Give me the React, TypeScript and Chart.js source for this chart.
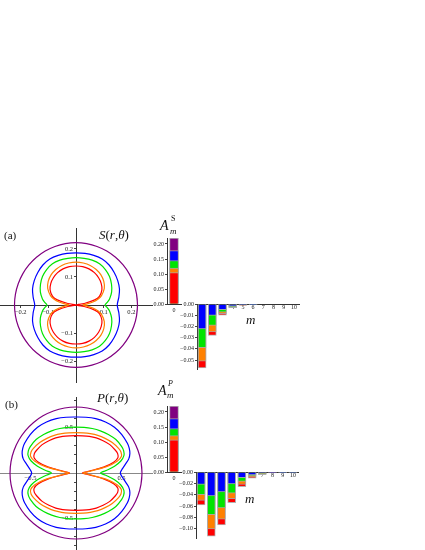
import React, { useEffect, useRef } from "react";
import { Chart, registerables } from "chart.js";

Chart.register(...registerables);

const FONT = "'Liberation Serif', 'Times New Roman', serif";

const PURPLE = "rgb(128, 0, 128)";
const BLUE = "rgb(0, 0, 255)";
const GREEN = "rgb(0, 228, 0)";
const ORANGE = "rgb(255, 128, 0)";
const RED = "rgb(255, 0, 0)";

// ---------- Panel (a): S(r,θ) polar curves, first-quadrant samples (degrees, radius) ----------
const sPurpleAngles = [0, 10, 20, 30, 40, 50, 60, 70, 80, 90];
const sPurpleRadii = [0.222, 0.222, 0.222, 0.222, 0.222, 0.222, 0.222, 0.222, 0.222, 0.222];
const sBlueAngles = [0, 10, 20, 30, 40, 50, 60, 70, 80, 90];
const sBlueRadii = [0.149, 0.157, 0.167, 0.174, 0.18, 0.186, 0.189, 0.188, 0.187, 0.186];
const sGreenAngles = [0, 5, 10, 20, 30, 40, 50, 60, 70, 80, 90];
const sGreenRadii = [0.105, 0.114, 0.123, 0.137, 0.148, 0.158, 0.165, 0.17, 0.17, 0.169, 0.169];
const sOrangeAngles = [0, 5, 10, 15, 20, 30, 40, 50, 60, 70, 80, 90];
const sOrangeRadii = [0.025, 0.038, 0.062, 0.083, 0.098, 0.118, 0.131, 0.14, 0.146, 0.15, 0.152, 0.153];
const sRedAngles = [8, 10, 15, 20, 30, 40, 50, 60, 70, 80, 90];
const sRedRadii = [0, 0.03, 0.07, 0.09, 0.108, 0.119, 0.127, 0.133, 0.137, 0.139, 0.139];
const sAxisTicks = [-0.2, -0.1, 0, 0.1, 0.2];
const sAxisLabeled = [-0.2, -0.1, 0.1, 0.2];

// ---------- Panel (b): P(r,θ) polar curves ----------
const pPurpleAngles = [0, 10, 20, 30, 40, 50, 60, 70, 80, 90];
const pPurpleRadii = [0.725, 0.725, 0.725, 0.725, 0.725, 0.725, 0.725, 0.725, 0.725, 0.725];
const pBlueAngles = [0, 5, 10, 15, 20, 25, 30, 40, 50, 60, 70, 80, 90];
const pBlueRadii = [0.487, 0.51, 0.55, 0.6, 0.63, 0.645, 0.652, 0.657, 0.657, 0.648, 0.635, 0.622, 0.615];
const pGreenAngles = [0, 5, 10, 15, 20, 25, 30, 40, 50, 60, 70, 80, 90];
const pGreenRadii = [0.27, 0.34, 0.43, 0.51, 0.56, 0.578, 0.58, 0.572, 0.553, 0.535, 0.52, 0.51, 0.505];
const pOrangeAngles = [0, 4, 8, 12, 16, 20, 25, 30, 40, 50, 60, 70, 80, 90];
const pOrangeRadii = [0.075, 0.1, 0.17, 0.35, 0.47, 0.53, 0.545, 0.54, 0.52, 0.497, 0.478, 0.46, 0.448, 0.443];
const pRedAngles = [0, 4, 8, 12, 16, 20, 25, 30, 40, 50, 60, 70, 80, 90];
const pRedRadii = [0.07, 0.09, 0.15, 0.31, 0.43, 0.49, 0.505, 0.5, 0.485, 0.463, 0.445, 0.428, 0.415, 0.41];
const pAxisTicks = [-0.8, -0.7, -0.6, -0.5, -0.4, -0.3, -0.2, -0.1, 0, 0.1, 0.2, 0.3, 0.4, 0.5, 0.6, 0.7, 0.8];
const pAxisLabeled = [-0.5, 0.5];

// ---------- Bar charts A_m ----------
const mZero = ["0"];
const mHigher = ["1", "2", "3", "4", "5", "6", "7", "8", "9", "10"];
const zeroBarTicks = [0, 0.05, 0.1, 0.15, 0.2];
const sHigherTicks = [0, -0.01, -0.02, -0.03, -0.04, -0.05];
const pHigherTicks = [0, -0.02, -0.04, -0.06, -0.08, -0.1];

const aS0Purple = [0.22];
const aS0Blue = [0.178];
const aS0Green = [0.145];
const aS0Orange = [0.12];
const aS0Red = [0.105];

const aSmBlue = [-0.0222, -0.0102, -0.0051, -0.0015, -0.0008, -0.0002, 0, 0, 0, 0];
const aSmGreen = [-0.039, -0.0192, -0.0072, -0.0025, -0.0009, -0.0003, 0, 0, 0, 0];
const aSmOrange = [-0.051, -0.025, -0.0087, -0.003, -0.001, -0.0004, 0, 0, 0, 0];
const aSmRed = [-0.057, -0.028, -0.01, -0.0033, -0.001, -0.0005, 0, 0, 0, 0];

const aP0Purple = [0.22];
const aP0Blue = [0.178];
const aP0Green = [0.145];
const aP0Orange = [0.121];
const aP0Red = [0.107];

const aPmBlue = [-0.022, -0.042, -0.035, -0.021, -0.01, -0.005, -0.0015, -0.0005, -0.0002, -0.0001];
const aPmGreen = [-0.04, -0.075, -0.063, -0.037, -0.0165, -0.007, -0.0025, -0.0008, -0.0003, -0.0001];
const aPmOrange = [-0.05, -0.1, -0.083, -0.047, -0.022, -0.009, -0.0035, -0.001, -0.0003, -0.0001];
const aPmRed = [-0.058, -0.113, -0.093, -0.054, -0.026, -0.011, -0.0045, -0.0015, -0.0004, -0.0001];

// ---------- helpers ----------
type Pt = { x: number; y: number };

function polarLoop(angles: number[], radii: number[]): Pt[] {
  const q = angles.map((a, i) => {
    const t = (a * Math.PI) / 180;
    return { x: radii[i] * Math.cos(t), y: radii[i] * Math.sin(t) };
  });
  const n = q.length;
  const pts: Pt[] = [];
  for (let i = 0; i < n; i++) pts.push({ x: q[i].x, y: q[i].y });
  for (let i = n - 2; i >= 0; i--) pts.push({ x: -q[i].x, y: q[i].y });
  for (let i = 1; i < n; i++) pts.push({ x: -q[i].x, y: -q[i].y });
  for (let i = n - 2; i >= 0; i--) pts.push({ x: q[i].x, y: -q[i].y });
  return [pts[pts.length - 2], ...pts, pts[1]];
}

const fixedTicks = (values: number[]) => (scale: any) => {
  scale.ticks = values.map((v) => ({ value: v }));
};

const minus = (s: string) => s.replace("-", "\u2212");
const inList = (list: number[], v: number) => list.some((x) => Math.abs(x - v) < 1e-9);

type Curve = { angles: number[]; radii: number[]; color: string };

function polarConfig(
  curves: Curve[],
  range: number,
  ticks: number[],
  labeled: number[],
  dottedX: boolean
): any {
  const axisBase = (isX: boolean) => ({
    type: "linear",
    position: "center",
    min: -range,
    max: range,
    afterBuildTicks: fixedTicks(ticks),
    ticks: {
      autoSkip: false,
      maxRotation: 0,
      padding: 1,
      color: "#222",
      font: { family: FONT, size: 6.5 },
      callback: (v: any) => (inList(labeled, Number(v)) ? minus(Number(v).toFixed(1)) : ""),
    },
    grid: {
      drawOnChartArea: false,
      drawTicks: !(isX && dottedX),
      tickLength: 2,
      color: "#444",
    },
    border:
      isX && dottedX
        ? { display: true, color: "#888", width: 1, dash: [1, 4] }
        : { display: true, color: "#333", width: 1 },
  });
  return {
    type: "scatter",
    data: {
      datasets: curves.map((c) => ({
        data: polarLoop(c.angles, c.radii),
        borderColor: c.color,
        backgroundColor: c.color,
        borderWidth: 1.2,
        showLine: true,
        pointRadius: 0,
        tension: 0.33,
        fill: false,
      })),
    },
    options: {
      responsive: false,
      animation: false,
      events: [],
      layout: { padding: 12 },
      plugins: { legend: { display: false }, tooltip: { enabled: false } },
      scales: { x: axisBase(true), y: axisBase(false) },
    },
  };
}

type BarSet = { data: number[]; color: string; order: number };

function barConfig(
  labels: string[],
  sets: BarSet[],
  yMin: number,
  yMax: number,
  yTicks: number[],
  thickness: number,
  upper: boolean
): any {
  const tickFont = { family: FONT, size: 6 };
  return {
    type: "bar",
    data: {
      labels,
      datasets: sets.map((s) => ({
        data: s.data,
        backgroundColor: s.color,
        borderColor: "rgba(170,170,170,0.9)",
        borderWidth: 1,
        order: s.order,
        grouped: false,
        barThickness: thickness,
      })),
    },
    options: {
      responsive: false,
      animation: false,
      events: [],
      layout: {
        padding: upper
          ? { top: 8, right: 2, left: 0, bottom: 0 }
          : { top: 10, bottom: 10, left: 0, right: 8 },
      },
      plugins: { legend: { display: false }, tooltip: { enabled: false } },
      scales: {
        x: upper
          ? {
              position: "bottom",
              afterFit: (s: any) => {
                s.height = 14;
              },
              grid: { display: false, drawTicks: false },
              border: { display: true, color: "#333", width: 1 },
              ticks: { padding: 3, color: "#222", font: tickFont, maxRotation: 0 },
            }
          : {
              position: { y: 0 },
              z: 1,
              grid: { display: false, drawTicks: false },
              border: { display: true, color: "#333", width: 1 },
              ticks: { padding: 0, color: "#222", font: tickFont, maxRotation: 0, autoSkip: false },
            },
        y: {
          position: "left",
          min: yMin,
          max: yMax,
          afterFit: (s: any) => {
            s.width = 27;
          },
          afterBuildTicks: fixedTicks(yTicks),
          ticks: {
            autoSkip: false,
            padding: 1,
            color: "#222",
            font: tickFont,
            callback: (v: any) => minus(Number(v).toFixed(2)),
          },
          grid: { drawOnChartArea: false, drawTicks: true, tickLength: 2, color: "#444" },
          border: { display: true, color: "#333", width: 1 },
        },
      },
    },
  };
}

function ChartCanvas(props: { left: number; top: number; width: number; height: number; make: () => any }) {
  const ref = useRef<HTMLCanvasElement>(null);
  useEffect(() => {
    const chart = new Chart(ref.current as HTMLCanvasElement, props.make());
    return () => chart.destroy();
  }, []);
  return (
    <canvas
      ref={ref}
      width={props.width}
      height={props.height}
      style={{ position: "absolute", left: props.left, top: props.top, width: props.width, height: props.height }}
    />
  );
}

function Txt(props: { left: number; top: number; size: number; italic?: boolean; children: any }) {
  return (
    <div
      style={{
        position: "absolute",
        left: props.left,
        top: props.top,
        fontSize: props.size,
        lineHeight: 1,
        fontStyle: props.italic ? "italic" : "normal",
        whiteSpace: "nowrap",
        color: "#111",
      }}
    >
      {props.children}
    </div>
  );
}

export default function App() {
  return (
    <div
      style={{
        position: "absolute",
        left: 0,
        top: 0,
        width: 425,
        height: 550,
        overflow: "hidden",
        background: "#fff",
        fontFamily: FONT,
      }}
    >
      {/* Panel (a) polar */}
      <ChartCanvas
        left={-12}
        top={216}
        width={176}
        height={178}
        make={() =>
          polarConfig(
            [
              { angles: sPurpleAngles, radii: sPurpleRadii, color: PURPLE },
              { angles: sBlueAngles, radii: sBlueRadii, color: BLUE },
              { angles: sGreenAngles, radii: sGreenRadii, color: GREEN },
              { angles: sOrangeAngles, radii: sOrangeRadii, color: ORANGE },
              { angles: sRedAngles, radii: sRedRadii, color: RED },
            ],
            0.2744,
            sAxisTicks,
            sAxisLabeled,
            false
          )
        }
      />
      {/* Panel (a) bars m = 0 */}
      <ChartCanvas
        left={140}
        top={230}
        width={43}
        height={88}
        make={() =>
          barConfig(
            mZero,
            [
              { data: aS0Red, color: RED, order: 0 },
              { data: aS0Orange, color: ORANGE, order: 1 },
              { data: aS0Green, color: GREEN, order: 2 },
              { data: aS0Blue, color: BLUE, order: 3 },
              { data: aS0Purple, color: PURPLE, order: 4 },
            ],
            0,
            0.22,
            zeroBarTicks,
            9,
            true
          )
        }
      />
      {/* Panel (a) bars m >= 1 */}
      <ChartCanvas
        left={170}
        top={294}
        width={137}
        height={85}
        make={() =>
          barConfig(
            mHigher,
            [
              { data: aSmBlue, color: BLUE, order: 0 },
              { data: aSmGreen, color: GREEN, order: 1 },
              { data: aSmOrange, color: ORANGE, order: 2 },
              { data: aSmRed, color: RED, order: 3 },
            ],
            -0.058,
            0,
            sHigherTicks,
            8,
            false
          )
        }
      />

      {/* Panel (b) polar */}
      <ChartCanvas
        left={-12}
        top={385}
        width={176}
        height={176}
        make={() =>
          polarConfig(
            [
              { angles: pPurpleAngles, radii: pPurpleRadii, color: PURPLE },
              { angles: pBlueAngles, radii: pBlueRadii, color: BLUE },
              { angles: pGreenAngles, radii: pGreenRadii, color: GREEN },
              { angles: pOrangeAngles, radii: pOrangeRadii, color: ORANGE },
              { angles: pRedAngles, radii: pRedRadii, color: RED },
            ],
            0.835,
            pAxisTicks,
            pAxisLabeled,
            true
          )
        }
      />
      {/* Panel (b) bars m = 0 */}
      <ChartCanvas
        left={140}
        top={398}
        width={43}
        height={88}
        make={() =>
          barConfig(
            mZero,
            [
              { data: aP0Red, color: RED, order: 0 },
              { data: aP0Orange, color: ORANGE, order: 1 },
              { data: aP0Green, color: GREEN, order: 2 },
              { data: aP0Blue, color: BLUE, order: 3 },
              { data: aP0Purple, color: PURPLE, order: 4 },
            ],
            0,
            0.22,
            zeroBarTicks,
            9,
            true
          )
        }
      />
      {/* Panel (b) bars m >= 1 */}
      <ChartCanvas
        left={169}
        top={462}
        width={137}
        height={86}
        make={() =>
          barConfig(
            mHigher,
            [
              { data: aPmBlue, color: BLUE, order: 0 },
              { data: aPmGreen, color: GREEN, order: 1 },
              { data: aPmOrange, color: ORANGE, order: 2 },
              { data: aPmRed, color: RED, order: 3 },
            ],
            -0.116,
            0,
            pHigherTicks,
            8,
            false
          )
        }
      />

      {/* Text labels, panel (a) */}
      <Txt left={4} top={230} size={11}>(a)</Txt>
      <Txt left={99} top={228} size={13}>
        <i>S</i>(<i>r</i>,<i>θ</i>)
      </Txt>
      <Txt left={160} top={219} size={14} italic>A</Txt>
      <Txt left={171} top={215} size={8}>S</Txt>
      <Txt left={170} top={227} size={9} italic>m</Txt>
      <Txt left={246} top={313} size={13} italic>m</Txt>

      {/* Text labels, panel (b) */}
      <Txt left={5} top={399} size={11}>(b)</Txt>
      <Txt left={97} top={391} size={13}>
        <i>P</i>(<i>r</i>,<i>θ</i>)
      </Txt>
      <Txt left={158} top={384} size={14} italic>A</Txt>
      <Txt left={168} top={380} size={8} italic>P</Txt>
      <Txt left={167} top={391} size={9} italic>m</Txt>
      <Txt left={245} top={492} size={13} italic>m</Txt>
    </div>
  );
}
